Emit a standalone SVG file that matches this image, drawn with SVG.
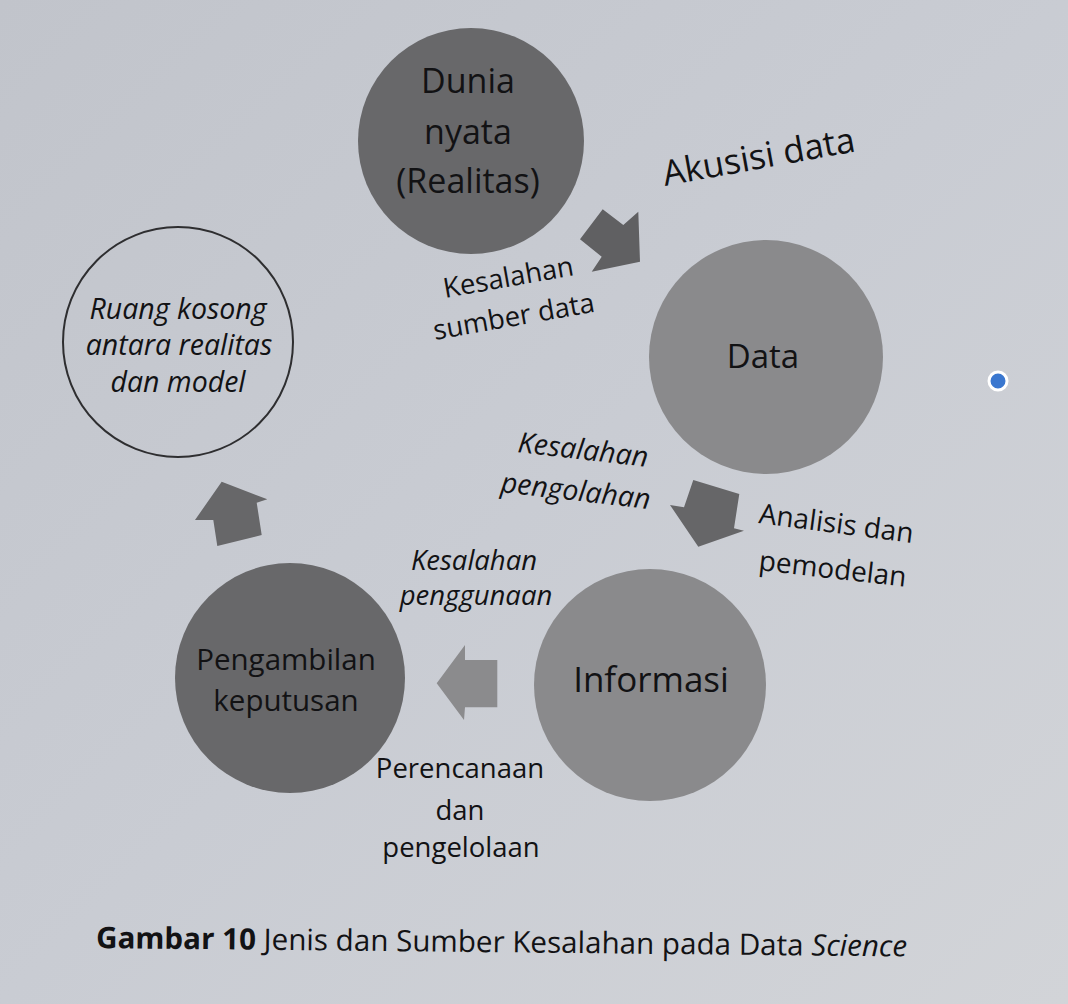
<svg xmlns="http://www.w3.org/2000/svg" width="1068" height="1004" viewBox="0 0 1068 1004">
  <defs>
    <linearGradient id="page" x1="0" y1="0" x2="1" y2="1">
      <stop offset="0" stop-color="#c1c4cb"/>
      <stop offset="0.5" stop-color="#c9ccd3"/>
      <stop offset="1" stop-color="#d2d4d8"/>
    </linearGradient>
    <style>
      .lbl { font-family: "Open Sans", "Liberation Sans", sans-serif; fill: #121214; }
      .node-text { font-size: 34px; text-anchor: middle; }
      .edge-text { font-size: 27.5px; }
      .it { font-style: italic; }
      .mid { text-anchor: middle; }
      .dark { fill: #68686a; }
      .light { fill: #8a8a8c; }
    </style>
  </defs>

  <!-- page -->
  <rect x="0" y="0" width="1068" height="1004" fill="url(#page)"/>

  <!-- nodes -->
  <g id="node-realitas">
    <circle cx="471" cy="141" r="113" class="dark"/>
    <text class="lbl node-text" x="468" y="93">Dunia</text>
    <text class="lbl node-text" x="468" y="144">nyata</text>
    <text class="lbl node-text" x="468" y="193">(Realitas)</text>
  </g>

  <g id="node-data">
    <circle cx="766" cy="357" r="117" class="light"/>
    <text class="lbl node-text" x="763" y="368" style="font-size:33px">Data</text>
  </g>

  <g id="node-informasi">
    <circle cx="650" cy="685" r="116" class="light"/>
    <text class="lbl node-text" x="651" y="692" style="font-size:35px">Informasi</text>
  </g>

  <g id="node-keputusan">
    <circle cx="290" cy="678" r="115" class="dark"/>
    <text class="lbl node-text" x="286" y="670" style="font-size:29.5px">Pengambilan</text>
    <text class="lbl node-text" x="286" y="711" style="font-size:29.5px">keputusan</text>
  </g>

  <g id="node-ruang-kosong">
    <circle cx="178" cy="342" r="115" fill="none" stroke="#2e2e30" stroke-width="2"/>
    <text class="lbl it mid" x="178" y="319" font-size="28.5">Ruang kosong</text>
    <text class="lbl it mid" x="179" y="355" font-size="28.5">antara realitas</text>
    <text class="lbl it mid" x="178" y="392" font-size="28.5">dan model</text>
  </g>

  <!-- connectors: block arrows between the stages -->
  <g id="connectors">
    <polygon id="arrow-akusisi" fill="#606062"
      points="602.7,209.3 623.3,225 638.3,211.7 640,261.7 591.7,271.7 601.7,256.7 580,239.3"/>
    <polygon id="arrow-analisis" fill="#666668"
      points="693.3,480 739.3,494 734,528.3 744,530.7 698.3,546.7 670,505 684,507.3"/>
    <polygon id="arrow-perencanaan" fill="#8b8b8d"
      points="436.7,683.3 465,645 465,660 497.3,660 497.3,707.3 465,707.3 464,720"/>
    <polygon id="arrow-kembali" fill="#676769"
      points="221.7,481.7 267.3,499.3 256.7,502.7 261.7,535 217.3,546 213.3,520 195,520"/>
  </g>

  <!-- connector labels -->
  <g id="labels">
    <text class="lbl" x="665" y="186" font-size="35" transform="rotate(-10.3 665 186)">Akusisi data</text>

    <text class="lbl edge-text" x="445" y="298" transform="rotate(-10 445 298)">Kesalahan</text>
    <text class="lbl edge-text" x="435" y="340" transform="rotate(-10 435 340)">sumber data</text>

    <text class="lbl edge-text it" x="517" y="452" transform="rotate(6.5 517 452)" style="font-size:28.5px">Kesalahan</text>
    <text class="lbl edge-text it" x="500" y="492" transform="rotate(6.5 500 492)" style="font-size:28.5px">pengolahan</text>

    <text class="lbl edge-text" x="758" y="523" transform="rotate(7.4 758 523)" style="font-size:28px">Analisis dan</text>
    <text class="lbl edge-text" x="758" y="570" transform="rotate(6.5 758 570)" style="font-size:28px">pemodelan</text>

    <text class="lbl edge-text it mid" x="474" y="570">Kesalahan</text>
    <text class="lbl edge-text it mid" x="476" y="605">penggunaan</text>

    <text class="lbl edge-text mid" x="460" y="778">Perencanaan</text>
    <text class="lbl edge-text mid" x="460" y="820">dan</text>
    <text class="lbl edge-text mid" x="461" y="857">pengelolaan</text>
  </g>

  <!-- caption -->
  <g id="caption">
    <text class="lbl" x="96" y="948" font-size="29.6" transform="rotate(0.6 96 948)"><tspan font-weight="bold">Gambar 10</tspan> Jenis dan Sumber Kesalahan pada Data <tspan font-style="italic">Science</tspan></text>
  </g>

  <!-- marker dot -->
  <circle cx="998" cy="381" r="9" fill="#3a77cf" stroke="#ffffff" stroke-width="3"/>
</svg>
